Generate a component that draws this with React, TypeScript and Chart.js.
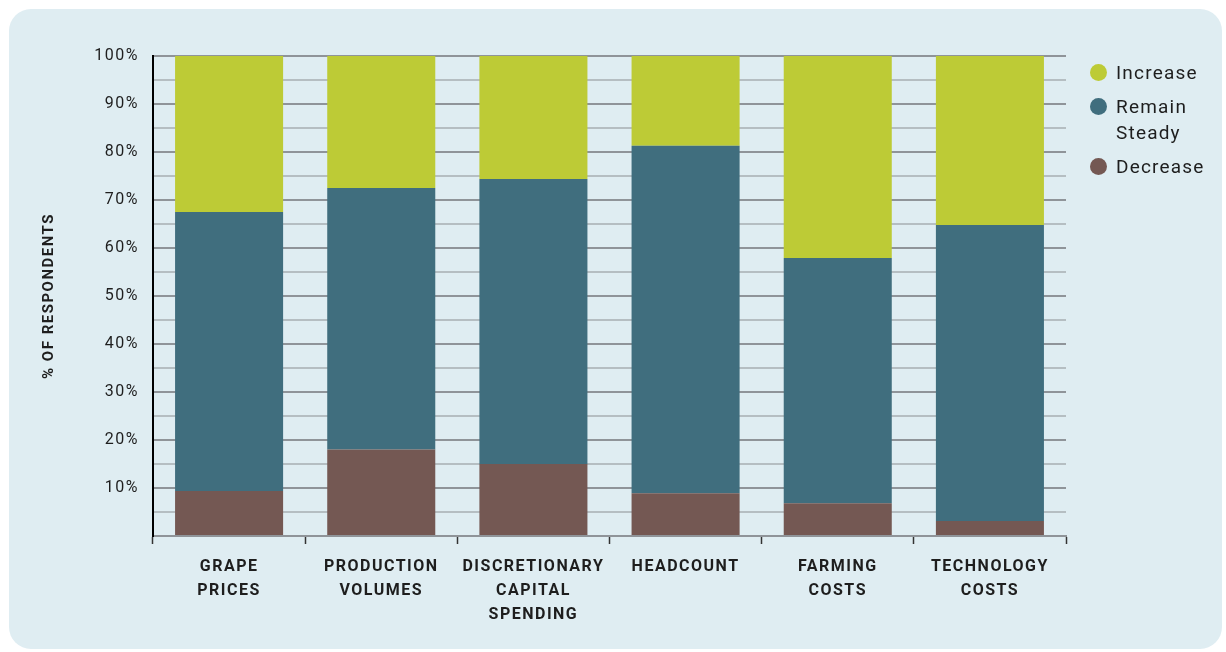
import React, { useEffect, useRef } from "react";
import { Chart, registerables } from "chart.js";

Chart.register(...registerables);

const categories: string[][] = [
  ["GRAPE", "PRICES"],
  ["PRODUCTION", "VOLUMES"],
  ["DISCRETIONARY", "CAPITAL", "SPENDING"],
  ["HEADCOUNT"],
  ["FARMING", "COSTS"],
  ["TECHNOLOGY", "COSTS"],
];
const decrease = [9.4, 18.0, 15.0, 8.9, 6.8, 3.1];
const remainSteady = [58.1, 54.5, 59.4, 72.4, 51.1, 61.7];
const increase = [32.5, 27.5, 25.6, 18.7, 42.1, 35.2];

const seriesNames = ["Decrease", "Remain Steady", "Increase"];
const seriesColors = ["#745853", "#406e7e", "#bdcb36"];
const legendItems = [
  { label: ["Increase"], color: "#bdcb36" },
  { label: ["Remain", "Steady"], color: "#406e7e" },
  { label: ["Decrease"], color: "#745853" },
];
const yTitle = "% OF RESPONDENTS";
const yMin = 0;
const yMax = 100;
const yStep = 5;

const FONT = "Roboto, 'DejaVu Sans', sans-serif";
const PANEL_W = 1213;
const PANEL_H = 640;

export default function App() {
  const canvasRef = useRef<HTMLCanvasElement | null>(null);

  useEffect(() => {
    if (!canvasRef.current) return;
    const spacingPlugin = {
      id: "letterSpacing",
      beforeDraw(chart: any) {
        chart.ctx.letterSpacing = "1.5px";
      },
    };
    const chart = new Chart(canvasRef.current, {
      type: "bar",
      data: {
        labels: categories,
        datasets: [decrease, remainSteady, increase].map((d, i) => ({
          label: seriesNames[i],
          data: d,
          backgroundColor: seriesColors[i],
          borderWidth: 0,
          barPercentage: 0.71,
          categoryPercentage: 1,
        })),
      },
      options: {
        responsive: false,
        animation: false,
        devicePixelRatio: 1,
        layout: { padding: { left: 0, top: 47, right: PANEL_W - 1057, bottom: 0 } },
        plugins: {
          legend: { display: false },
          tooltip: { enabled: false },
        },
        scales: {
          x: {
            stacked: true,
            afterFit: (s: any) => {
              s.height = PANEL_H - 527;
            },
            border: { display: true, color: "#8f9499", width: 2 },
            grid: {
              offset: true,
              drawOnChartArea: false,
              drawTicks: true,
              tickLength: 8,
              tickColor: "#333333",
              tickWidth: 1.5,
            },
            ticks: {
              color: "#1e1e1e",
              padding: 11,
              maxRotation: 0,
              autoSkip: false,
              font: { family: FONT, size: 16, weight: "bold", lineHeight: 1.5 },
            },
          },
          y: {
            stacked: true,
            min: yMin,
            max: yMax,
            afterFit: (s: any) => {
              s.width = 144;
            },
            border: { display: true, color: "#000000", width: 2 },
            grid: {
              drawTicks: false,
              color: (ctx: any) =>
                ctx.tick && ctx.tick.value % 10 === 0 ? "#8f9499" : "#b5bec2",
              lineWidth: 2,
            },
            ticks: {
              stepSize: yStep,
              autoSkip: false,
              padding: 14,
              color: "#1e1e1e",
              font: { family: FONT, size: 16 },
              callback: (v: any) => (v % 10 === 0 && v > 0 ? v + "%" : ""),
            },
            title: {
              display: true,
              text: yTitle,
              color: "#1e1e1e",
              padding: { top: 31, bottom: 0 },
              font: { family: FONT, size: 15, weight: "bold", lineHeight: 1.2 },
            },
          },
        },
      },
      plugins: [spacingPlugin],
    } as any);
    return () => chart.destroy();
  }, []);

  return (
    <div
      style={{
        position: "absolute",
        left: 9,
        top: 9,
        width: PANEL_W,
        height: PANEL_H,
        borderRadius: 22,
        background: "#dfedf2",
        overflow: "hidden",
      }}
    >
      <canvas
        ref={canvasRef}
        width={PANEL_W}
        height={PANEL_H}
        style={{ position: "absolute", left: 0, top: 0 }}
      />
      <div
        style={{
          position: "absolute",
          left: 1081,
          top: 51,
          fontFamily: FONT,
          fontSize: 19,
          letterSpacing: "1.2px",
          color: "#1e1e1e",
        }}
      >
        {legendItems.map((it, i) => (
          <div
            key={i}
            style={{ display: "flex", alignItems: "flex-start", marginBottom: 8 }}
          >
            <span
              style={{
                width: 17,
                height: 17,
                borderRadius: "50%",
                background: it.color,
                marginTop: 4,
                marginRight: 9,
                flex: "0 0 auto",
              }}
            />
            <span style={{ lineHeight: "26px" }}>
              {it.label.map((l, j) => (
                <div key={j}>{l}</div>
              ))}
            </span>
          </div>
        ))}
      </div>
    </div>
  );
}
